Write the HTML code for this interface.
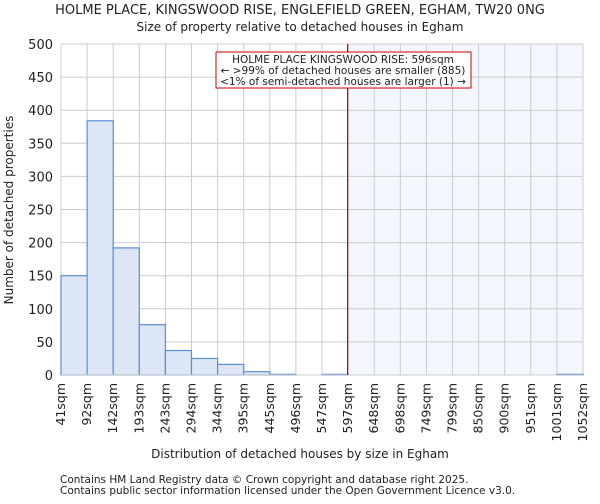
<!DOCTYPE html>
<html><head><meta charset="utf-8"><style>
body{margin:0;background:#fff;font-family:"DejaVu Sans","Liberation Sans",sans-serif;}
svg text{font-family:"DejaVu Sans","Liberation Sans",sans-serif;fill:#222;}
</style></head><body>
<svg id="c" width="600" height="500">
<text x="300" y="14" font-size="13" text-anchor="middle">HOLME PLACE, KINGSWOOD RISE, ENGLEFIELD GREEN, EGHAM, TW20 0NG</text>
<text x="300" y="31" font-size="12" text-anchor="middle">Size of property relative to detached houses in Egham</text>
<g id="grid"></g><g id="bars"></g><g id="axes"></g>
<text x="300" y="458" font-size="12" text-anchor="middle">Distribution of detached houses by size in Egham</text>
<text transform="translate(13,210) rotate(-90)" font-size="12" text-anchor="middle">Number of detached properties</text>
<text x="60" y="483" font-size="10.5">Contains HM Land Registry data © Crown copyright and database right 2025.</text>
<text x="60" y="494" font-size="10.5">Contains public sector information licensed under the Open Government Licence v3.0.</text>
</svg>
<script>
const binLabels=["41sqm","92sqm","142sqm","193sqm","243sqm","294sqm","344sqm","395sqm","445sqm","496sqm","547sqm","597sqm","648sqm","698sqm","749sqm","799sqm","850sqm","900sqm","951sqm","1001sqm","1052sqm"];
const counts=[150,384,192,76,37,25,16,5,1,0,1,0,0,0,0,0,0,0,0,1];
const yTicks=[0,50,100,150,200,250,300,350,400,450,500];
const markerBin=11;
const X0=61,X1=583,Y0=375,Y1=44,NS="http://www.w3.org/2000/svg";
const n=counts.length,bw=(X1-X0)/n;
const xs=i=>X0+i*bw, ys=v=>Y0-(v/500)*(Y0-Y1);
function mk(t,a,p){const e=document.createElementNS(NS,t);for(const k in a)e.setAttribute(k,a[k]);p.appendChild(e);return e;}
const g=document.getElementById('grid'),b=document.getElementById('bars'),ax=document.getElementById('axes');
let sh=mk('rect',{x:xs(markerBin),y:Y1,width:X1-xs(markerBin),height:Y0-Y1,fill:'#f3f6fd'},g);


yTicks.forEach(v=>{const l=mk('line',{x1:X0,x2:X1,y1:ys(v),y2:ys(v),stroke:'#cccccc'},g);


const t=mk('text',{x:X0-8,y:ys(v)+5,'font-size':13,'text-anchor':'end'},ax);t.textContent=v;

});
binLabels.forEach((s,i)=>{const l=mk('line',{x1:xs(i),x2:xs(i),y1:Y1,y2:Y0,stroke:'#cccccc'},g);


const x=xs(i)+4;const t=mk('text',{transform:`translate(${x},${Y0+8}) rotate(-90)`,'font-size':12.5,'text-anchor':'end'},ax);t.textContent=s;

});
counts.forEach((c,i)=>{if(c<=0)return;const r=mk('rect',{x:xs(i),y:ys(c),width:bw,height:Y0-ys(c),fill:'#dce6f4',stroke:'#5a8fd6','stroke-width':1.2},b);

});
const a1=mk('line',{x1:X0,x2:X1,y1:Y0,y2:Y0,stroke:'#cccccc'},ax);


const ml=mk('line',{x1:xs(markerBin)-0.5,x2:xs(markerBin)-0.5,y1:Y1,y2:Y0,stroke:'#cc0000','stroke-width':1.2},ax);


const bx=mk('rect',{x:216,y:52,width:255,height:36,fill:'#fff',stroke:'#cc0000'},ax);


["HOLME PLACE KINGSWOOD RISE: 596sqm","← >99% of detached houses are smaller (885)","<1% of semi-detached houses are larger (1) →"].forEach((s,i)=>{const t=mk('text',{x:343,y:63+i*11,'font-size':10.5,'text-anchor':'middle'},ax);t.textContent=s;

});
</script>
</body></html>
